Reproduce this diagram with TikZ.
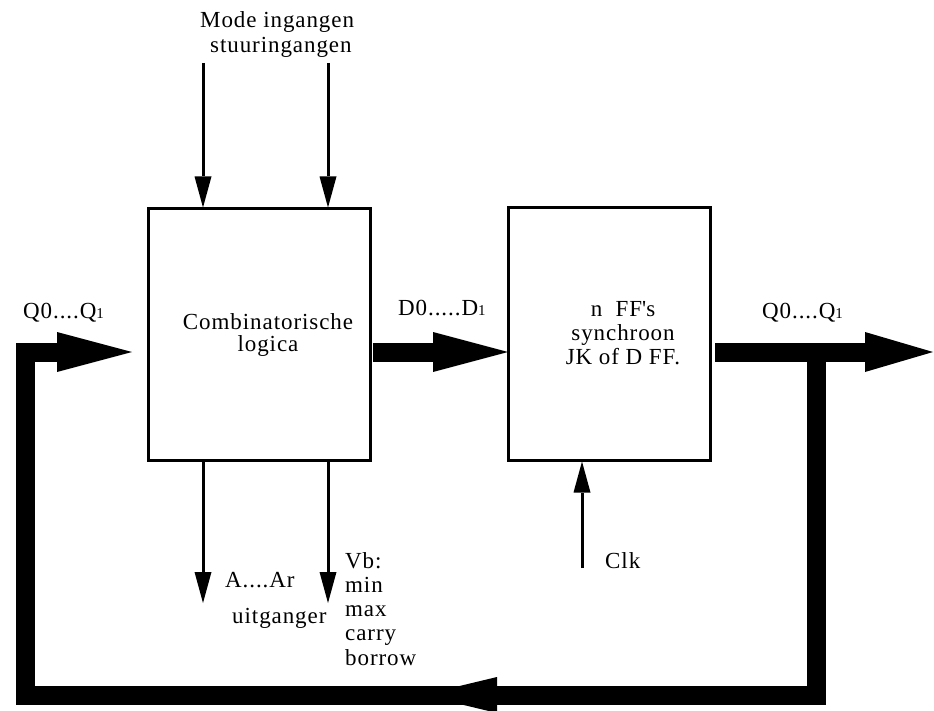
\documentclass[tikz,border=0pt]{standalone}
\usepackage{fontspec}
\setmainfont{Liberation Serif}[LetterSpace=4]
\usetikzlibrary{arrows.meta}
\newcommand{\lowone}[1]{{\fontsize{15}{15}\selectfont #1}}
\begin{document}
\begin{tikzpicture}[x=1pt,y=-1pt,
  every node/.style={font=\fontsize{23}{24.3}\selectfont},
  blockbox/.style={draw,line width=3pt,inner sep=0pt},
  lbl/.style={anchor=base west,inner sep=0pt},
  sig/.style={line width=3pt,-{Triangle[length=31pt,width=17pt,line width=0pt]}},
  bus/.style={line width=19pt,line join=miter},
  bushead/.style={-{Triangle[length=75pt,width=40pt,line width=0pt]}}]
\useasboundingbox (0,0) rectangle (934,711);

% the two blocks
\node[blockbox,minimum width=222pt,minimum height=251pt] (cl) at (259,334.5) {};
\node[align=center,font=\fontsize{23}{22.5}\selectfont] (clText) at (268,335) {Combinatorische\\logica};
\node[blockbox,minimum width=202pt,minimum height=252pt] (ff) at (609,334) {};
\node[align=center] (ffText) at (623,333) {n\ \ FF\textquotesingle s\\synchroon\\JK of D FF.};

% control inputs
\node[lbl] (mode) at (200,28) {Mode ingangen};
\node[lbl] (stuur) at (210,53) {stuuringangen};
\coordinate (in1) at (203,63);
\coordinate (in2) at (328,63);
\draw[sig] (in1) -- (in1 |- cl.north);
\draw[sig] (in2) -- (in2 |- cl.north);

% outputs below the combinational block
\coordinate (out1) at (203,603);
\coordinate (out2) at (328,603);
\draw[sig] (out1 |- cl.south) -- (out1);
\draw[sig] (out2 |- cl.south) -- (out2);
\node[lbl] (aout) at (225,587) {A....Ar};
\node[lbl] (uit) at (232,623) {uitganger};
\foreach \t [count=\i] in {Vb:,min,max,carry,borrow}
  \node[lbl] (vb\i) at (345,543.7+24.3*\i) {\t};

% clock
\coordinate (clk) at (582,568);
\draw[sig] (clk) -- (clk |- ff.south);
\node[lbl] (clkText) at (605,568) {Clk};

% bus labels
\node[lbl] (qin) at (23,318) {Q0....Q\lowone{1}};
\node[lbl] (dlab) at (398,315) {D0.....D\lowone{1}};
\node[lbl] (qout) at (762,318) {Q0....Q\lowone{1}};

% wide buses
\coordinate (dS) at (373,352);
\coordinate (dT) at (508,352);
\draw[bus,bushead] (dS) -- (dT);

\coordinate (qS) at (715,352);
\coordinate (qT) at (933,352);
\draw[bus,-{Triangle[length=68pt,width=40pt,line width=0pt]}] (qS) -- (qT);

% feedback loop back to the combinational block
\coordinate (fbA) at (816,352);
\coordinate (fbB) at (816,695);
\coordinate (fbC) at (25,695);
\coordinate (fbD) at (25,352);
\coordinate (fbT) at (132,352);
\draw[bus,bushead] (fbA) -- (fbB) -- (fbC) -- (fbD) -- (fbT);
\coordinate (fbMid) at (422,695);
\fill (fbMid) -- ++(75,-18) -- ++(0,36) -- cycle;
\end{tikzpicture}
\end{document}
